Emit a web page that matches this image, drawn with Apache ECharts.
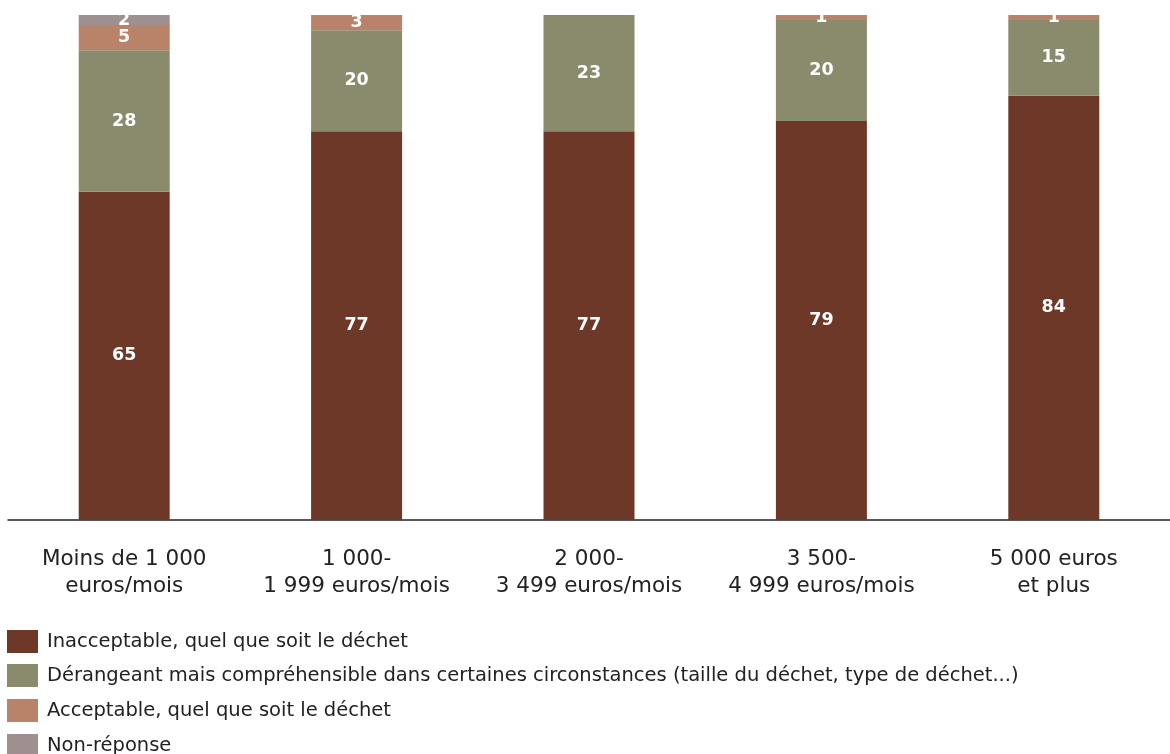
<!DOCTYPE html>
<html>
<head>
<meta charset="utf-8">
<script src="https://cdn.jsdelivr.net/npm/echarts@6/dist/echarts.min.js"></script>
<style>
  html, body { margin: 0; padding: 0; background: #fff; }
  #chart { width: 1170px; height: 754px; }
</style>
</head>
<body>
<div id="chart"></div>
<script>
// Income brackets (x-axis)
const categories = [
  'Moins de 1 000\neuros/mois',
  '1 000-\n1 999 euros/mois',
  '2 000-\n3 499 euros/mois',
  '3 500-\n4 999 euros/mois',
  '5 000 euros\net plus'
];

// Share of answers per bracket (%)
const inacceptable = [65, 77, 77, 79, 84];
const derangeant   = [28, 20, 23, 20, 15];
const acceptable   = [5, 3, 0, 1, 1];
const nonReponse   = [2, 0, 0, 0, 0];

const seriesNames = [
  'Inacceptable, quel que soit le déchet',
  'Dérangeant mais compréhensible dans certaines circonstances (taille du déchet, type de déchet...)',
  'Acceptable, quel que soit le déchet',
  'Non-réponse'
];
const seriesColors = ['#6e3829', '#8a8a6c', '#b9836a', '#9e9090'];
const seriesData = [inacceptable, derangeant, acceptable, nonReponse];

const FONT = 'DejaVu Sans';

// One legend block per row so the list stays in a single column
const legendRows = seriesNames.map((name, i) => ({
  orient: 'vertical',
  left: 7,
  top: Math.round(629.5 + i * 34.7),
  padding: 0,
  itemWidth: 31,
  itemHeight: 23,
  icon: 'rect',
  selectedMode: false,
  textStyle: { color: '#222', fontFamily: FONT, fontSize: 19.5, padding: [0, 0, 0, 4] },
  data: [name]
}));

const chart = echarts.init(document.getElementById('chart'));
chart.setOption({
  animation: false,
  backgroundColor: '#ffffff',
  textStyle: { fontFamily: FONT },
  grid: { left: 8, right: 0, top: 15, bottom: 234, containLabel: false },
  xAxis: {
    type: 'category',
    data: categories,
    axisLine: { show: true, lineStyle: { color: '#222', width: 1.5 } },
    axisTick: { show: false },
    axisLabel: {
      color: '#222',
      fontFamily: FONT,
      fontSize: 21.5,
      lineHeight: 27,
      margin: 26,
      interval: 0
    }
  },
  yAxis: {
    type: 'value',
    min: 0,
    max: 100,
    show: false
  },
  legend: legendRows,
  series: seriesData.map((vals, i) => ({
    name: seriesNames[i],
    type: 'bar',
    stack: 'total',
    barWidth: 91,
    itemStyle: { color: seriesColors[i] },
    label: {
      show: true,
      position: 'inside',
      color: '#fff',
      fontWeight: 'bold',
      fontSize: 17.5,
      fontFamily: FONT,
      formatter: p => (p.value ? String(p.value) : '')
    },
    data: vals
  }))
});
</script>
</body>
</html>
